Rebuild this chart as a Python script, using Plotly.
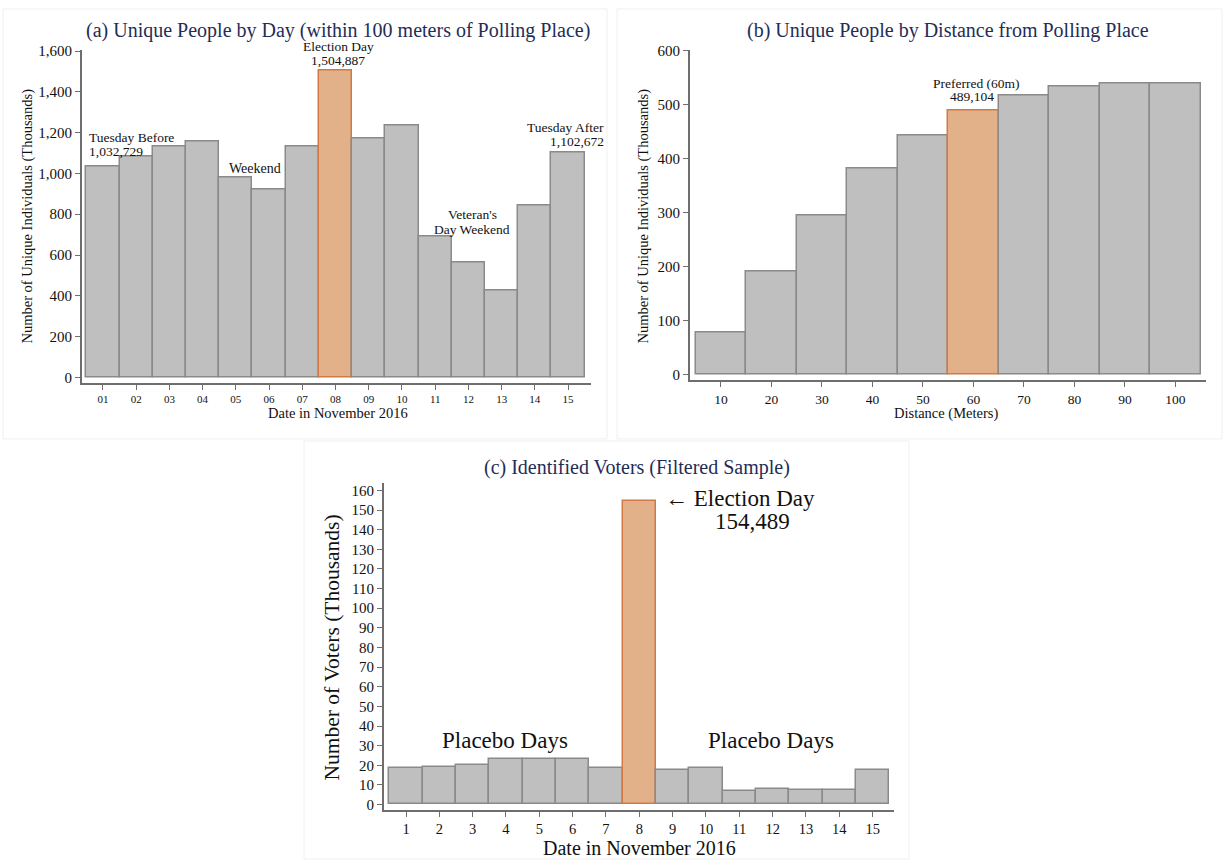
import plotly.graph_objects as go

# ---------------- data ----------------
days = list(range(1, 16))
day_labels_a = ["01", "02", "03", "04", "05", "06", "07", "08", "09", "10", "11", "12", "13", "14", "15"]
day_labels_c = [str(d) for d in days]
unique_by_day = [1032.7, 1083, 1132, 1159, 982, 921, 1132, 1504.9, 1170, 1236, 692, 562, 427, 842, 1102.7]

distances = [10, 20, 30, 40, 50, 60, 70, 80, 90, 100]
unique_by_dist = [78.6, 191, 296, 383, 443, 489.1, 517.6, 534, 539, 540]

voters_by_day = [18.7, 19.3, 20.2, 23.2, 23.2, 23.2, 18.5, 154.5, 17.3, 18.7, 6.7, 7.7, 7.2, 7.3, 17.5]

election_day = 8
preferred_dist = 60

# ---------------- style ----------------
W, H = 1225, 863
FONT = "Liberation Serif"
GRAY_FILL = "#bfbfbf"
GRAY_LINE = "#8a8a8a"
OR_FILL = "#e3b189"
OR_LINE = "#d27a45"
AXIS_COL = "#6e6e6e"
TITLE_COL = "#1f2d57"
TXT = "#111111"


def px(x):
    return x / W


def py(y):
    return 1 - y / H


def colors(xs, hl, a, b):
    return [a if x == hl else b for x in xs]


fig = go.Figure()

fig.add_trace(go.Bar(
    x=days, y=unique_by_day, width=1,
    marker=dict(color=colors(days, election_day, OR_FILL, GRAY_FILL),
                line=dict(color=colors(days, election_day, OR_LINE, GRAY_LINE), width=1.5)),
    xaxis="x", yaxis="y", showlegend=False, hoverinfo="skip"))

fig.add_trace(go.Bar(
    x=distances, y=unique_by_dist, width=10,
    marker=dict(color=colors(distances, preferred_dist, OR_FILL, GRAY_FILL),
                line=dict(color=colors(distances, preferred_dist, OR_LINE, GRAY_LINE), width=1.5)),
    xaxis="x2", yaxis="y2", showlegend=False, hoverinfo="skip"))

fig.add_trace(go.Bar(
    x=days, y=voters_by_day, width=1,
    marker=dict(color=colors(days, election_day, OR_FILL, GRAY_FILL),
                line=dict(color=colors(days, election_day, OR_LINE, GRAY_LINE), width=1.5)),
    xaxis="x3", yaxis="y3", showlegend=False, hoverinfo="skip"))

axis_common = dict(showline=True, linecolor=AXIS_COL, linewidth=2, showgrid=False, zeroline=False,
                   ticks="outside", ticklen=5, tickwidth=1.2, tickcolor=AXIS_COL, fixedrange=True)

fig.update_layout(
    width=W, height=H,
    margin=dict(l=0, r=0, t=0, b=0),
    paper_bgcolor="white", plot_bgcolor="white",
    font=dict(family=FONT, color=TXT),
    bargap=0,
    xaxis=dict(domain=[px(82), px(591)], anchor="y", range=[0.37, 15.69],
               tickvals=days, ticktext=day_labels_a, tickfont=dict(size=11), **axis_common),
    yaxis=dict(domain=[py(380.7), py(44)], anchor="x", range=[-29, 1603],
               tickvals=[0, 200, 400, 600, 800, 1000, 1200, 1400, 1600], tickformat=",d",
               tickfont=dict(size=15), **axis_common),
    xaxis2=dict(domain=[px(690), px(1206)], anchor="y2", range=[3.87, 106.05],
                tickvals=distances, tickfont=dict(size=13.5), **axis_common),
    yaxis2=dict(domain=[py(377.7), py(44)], anchor="x2", range=[-9.9, 600.5],
                tickvals=[0, 100, 200, 300, 400, 500, 600], tickfont=dict(size=15), **axis_common),
    xaxis3=dict(domain=[px(384), px(894.3)], anchor="y3", range=[0.34, 15.65],
                tickvals=days, ticktext=day_labels_c, tickfont=dict(size=14.5), **axis_common),
    yaxis3=dict(domain=[py(812.3), py(481.7)], anchor="x3", range=[-2.7, 163.7],
                tickvals=list(range(0, 161, 10)), tickfont=dict(size=15), **axis_common),
)

# faint panel frames
for x0, y0, x1, y1 in [(3, 2, 607, 437), (617, 2, 1222, 437), (304, 439, 909, 862)]:
    fig.add_shape(type="rect", xref="paper", yref="paper",
                  x0=px(x0), x1=px(x1), y0=py(y1), y1=py(y0),
                  line=dict(color="#f0f0f0", width=1), fillcolor="rgba(0,0,0,0)", layer="below")


def ann(text, x, y, size, xanchor="center", color=TXT, angle=0):
    fig.add_annotation(text=text, x=px(x), y=py(y), xref="paper", yref="paper",
                       xanchor=xanchor, yanchor="middle", showarrow=False, textangle=angle,
                       font=dict(family=FONT, size=size, color=color))


# titles
ann("(a) Unique People by Day (within 100 meters of Polling Place)", 338, 24, 20, color=TITLE_COL)
ann("(b) Unique People by Distance from Polling Place", 948, 24, 20, color=TITLE_COL)
ann("(c) Identified Voters (Filtered Sample)", 637, 466, 20, color=TITLE_COL)

# axis titles
ann("Number of Unique Individuals (Thousands)", 28, 212, 14.5, angle=-90)
ann("Date in November 2016", 338, 411, 14.5)
ann("Number of Unique Individuals (Thousands)", 644, 212, 14.5, angle=-90)
ann("Distance (Meters)", 946, 411, 14.5)
ann("Number of Voters (Thousands)", 332, 648, 21.5, angle=-90)
ann("Date in November 2016", 639, 851, 20)

# panel (a) labels
ann("Tuesday Before", 87, 132, 13.5, xanchor="left")
ann("1,032,729", 87, 146, 13.5, xanchor="left")
ann("Weekend", 255, 163, 14)
ann("Election Day", 338, 40, 13.5)
ann("1,504,887", 338, 54, 13.5)
ann("Veteran's", 472, 210, 13.5)
ann("Day Weekend", 472, 225, 13.5)
ann("Tuesday After", 606, 122, 13.5, xanchor="right")
ann("1,102,672", 606, 136, 13.5, xanchor="right")

# panel (b) label
ann("Preferred (60m)", 976, 77, 13.5)
ann("489,104", 972, 91, 13.5)

# panel (c) labels
ann("\u2190 Election Day", 663, 497, 23, xanchor="left")
ann("154,489", 752, 521, 23)
ann("Placebo Days", 505, 742, 23)
ann("Placebo Days", 771, 742, 23)

fig.write_html(
    "out.html",
    config={"displayModeBar": False},
    post_script="document.body.style.margin='0';document.body.style.padding='0';"
                "document.body.style.overflow='hidden';",
)
